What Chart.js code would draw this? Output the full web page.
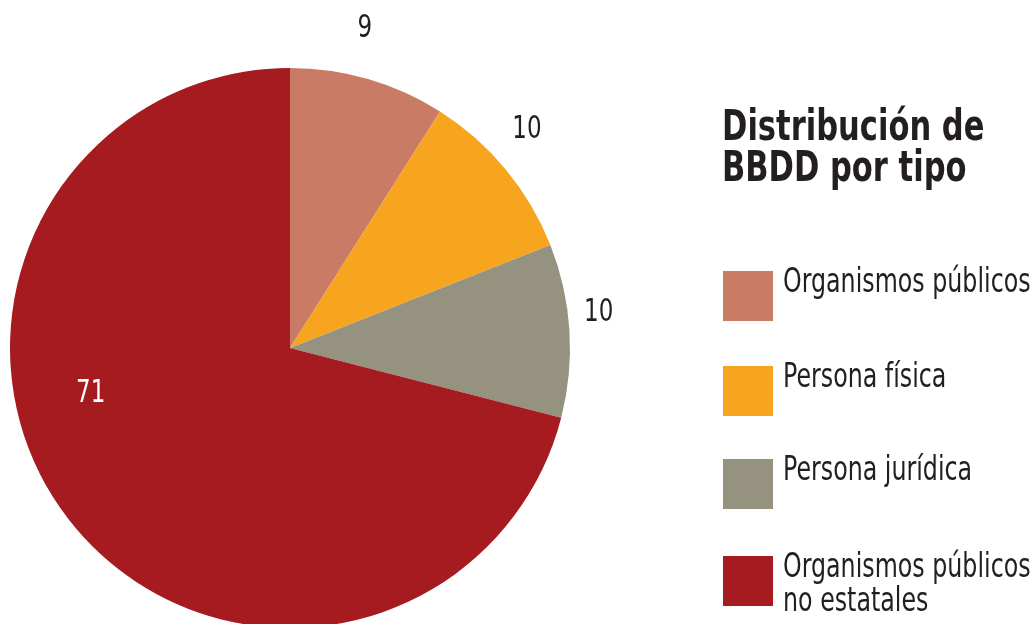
<!DOCTYPE html>
<html>
<head>
<meta charset="utf-8">
<script src="https://cdn.jsdelivr.net/npm/chart.js@4/dist/chart.umd.min.js"></script>
<style>
html,body{margin:0;padding:0;background:#fff;overflow:hidden;width:1032px;height:624px}
#wrap{position:relative;width:1032px;height:624px;overflow:hidden}
#chart{position:absolute;left:0;top:0}
.f{font-family:"Liberation Sans Narrow","DejaVu Sans Condensed","Roboto",sans-serif;color:#231f20;white-space:nowrap;transform-origin:0 0;transform:scaleX(0.8)}
#title{position:absolute;left:722px;top:105px;font-size:43px;font-weight:bold;line-height:41px;transform:scaleX(0.79)}
.item{position:absolute;left:723px}
.box{position:absolute;left:0;top:0;width:50px;height:50px}
.txt{position:absolute;left:60px;top:-7px;font-size:33px;line-height:34px}
</style>
</head>
<body>
<div id="wrap">
<canvas id="chart" width="1032" height="696"></canvas>
<div id="title" class="f">Distribución de<br>BBDD por tipo</div>
<div id="legend"></div>
</div>
<script>
// ---------- data ----------
const labels = ["Organismos públicos","Persona física","Persona jurídica","Organismos públicos no estatales"];
const legendLines = [["Organismos públicos"],["Persona física"],["Persona jurídica"],["Organismos públicos","no estatales"]];
const values = [9,10,10,71];
const colors = ["#c97b65","#f7a51f","#969280","#a51b20"];

// label placement: outside for small slices, inside for the big one
const labelDist = [1.17,1.15,1.11,0.73];
const labelTurn = [-3,-3,-3,25];
const labelColor = ["#231f20","#231f20","#231f20","#ffffff"];

const sliceLabels = {
    id:"sliceLabels",
    afterDatasetsDraw(chart){
        const ctx = chart.ctx;
        const arcs = chart.getDatasetMeta(0).data;
        arcs.forEach((arc,i)=>{
            const p = arc.getProps(["x","y","startAngle","endAngle","outerRadius"],true);
            const a = (p.startAngle+p.endAngle)/2 + labelTurn[i]*Math.PI/180;
            const r = p.outerRadius*labelDist[i];
            ctx.save();
            ctx.translate(p.x+Math.cos(a)*r, p.y+Math.sin(a)*r);
            ctx.scale(0.8,1);
            ctx.font = '32px "Liberation Sans Narrow","DejaVu Sans Condensed",sans-serif';
            ctx.textAlign = "center";
            ctx.textBaseline = "middle";
            ctx.fillStyle = labelColor[i];
            ctx.fillText(String(values[i]),0,0);
            ctx.restore();
        });
    }
};

new Chart(document.getElementById("chart"),{
    type:"pie",
    data:{
        labels:labels,
        datasets:[{
            data:values,
            backgroundColor:colors,
            borderWidth:0
        }]
    },
    options:{
        animation:false,
        responsive:false,
        radius:280,
        layout:{padding:{left:0,right:452,top:0,bottom:0}},
        plugins:{
            legend:{display:false},
            tooltip:{enabled:false}
        }
    },
    plugins:[sliceLabels]
});

// ---------- legend ----------
const legend = document.getElementById("legend");
const tops = [271,366,459,556];
labels.forEach((l,i)=>{
    const it = document.createElement("div");
    it.className = "item";
    it.style.top = tops[i]+"px";
    it.innerHTML = '<div class="box" style="background:'+colors[i]+'"></div>'+
        '<div class="txt f">'+legendLines[i].join("<br>")+'</div>';
    legend.appendChild(it);
});
</script>
</body>
</html>
